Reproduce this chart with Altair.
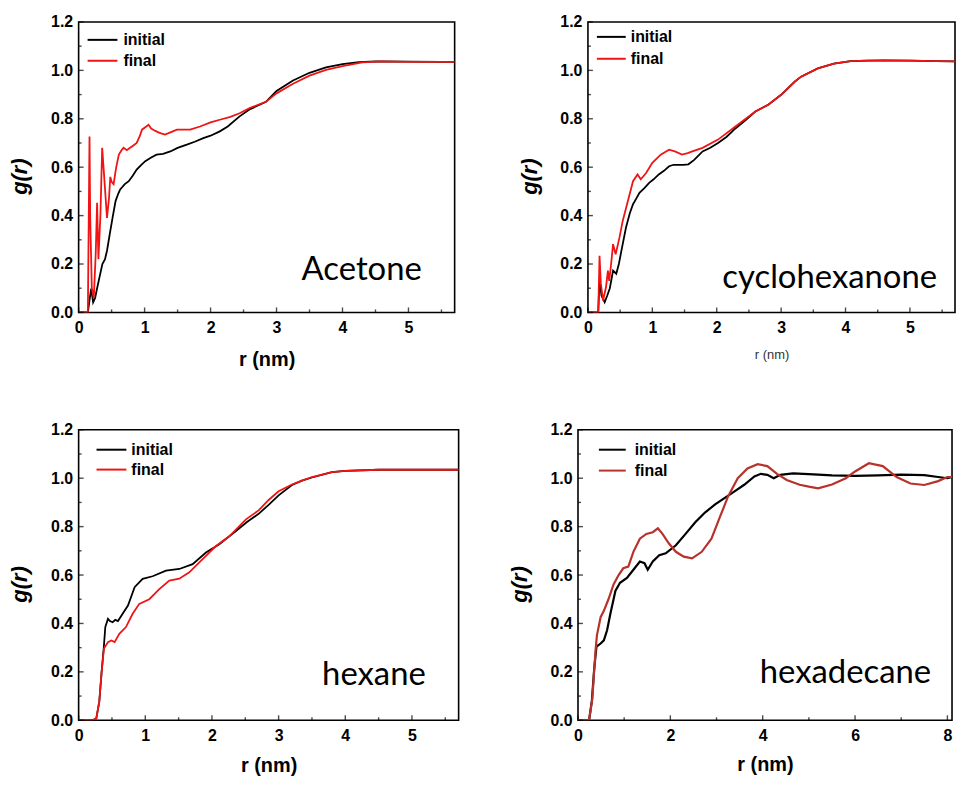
import altair as alt
import pandas as pd

# ---------------- data ----------------
# Acetone
ace_init_r = [0, 0.14, 0.17, 0.19, 0.22, 0.25, 0.28, 0.32, 0.36, 0.40, 0.43, 0.48, 0.52, 0.56, 0.60, 0.63, 0.70, 0.76, 0.82, 0.88, 0.95, 1.01, 1.10, 1.18, 1.28, 1.39, 1.50, 1.64, 1.76, 1.89, 2.00, 2.14, 2.26, 2.44, 2.60, 2.84, 3.00, 3.25, 3.50, 3.75, 4.00, 4.25, 4.50, 5.00, 5.50, 5.70]
ace_init_g = [0, 0, 0.06, 0.098, 0.042, 0.06, 0.10, 0.15, 0.20, 0.22, 0.255, 0.337, 0.40, 0.46, 0.49, 0.508, 0.53, 0.542, 0.565, 0.59, 0.61, 0.625, 0.64, 0.652, 0.655, 0.665, 0.68, 0.693, 0.705, 0.72, 0.73, 0.748, 0.768, 0.81, 0.84, 0.87, 0.915, 0.958, 0.99, 1.012, 1.026, 1.034, 1.037, 1.036, 1.035, 1.035]
ace_fin_r = [0, 0.14, 0.165, 0.175, 0.20, 0.23, 0.26, 0.28, 0.30, 0.33, 0.357, 0.39, 0.43, 0.46, 0.48, 0.50, 0.53, 0.57, 0.61, 0.65, 0.68, 0.73, 0.78, 0.83, 0.88, 0.93, 0.96, 1.01, 1.06, 1.10, 1.13, 1.20, 1.25, 1.31, 1.40, 1.49, 1.60, 1.69, 1.84, 2.00, 2.14, 2.30, 2.44, 2.60, 2.84, 3.00, 3.25, 3.50, 3.75, 4.00, 4.30, 4.60, 5.00, 5.50, 5.70]
ace_fin_g = [0, 0, 0.727, 0.40, 0.10, 0.06, 0.25, 0.453, 0.22, 0.40, 0.68, 0.55, 0.39, 0.47, 0.56, 0.54, 0.53, 0.60, 0.652, 0.67, 0.68, 0.67, 0.68, 0.69, 0.70, 0.73, 0.755, 0.765, 0.775, 0.76, 0.755, 0.745, 0.74, 0.735, 0.745, 0.755, 0.755, 0.755, 0.768, 0.785, 0.796, 0.808, 0.823, 0.845, 0.87, 0.905, 0.945, 0.978, 1.002, 1.018, 1.033, 1.037, 1.035, 1.035, 1.035]

# cyclohexanone
cyc_init_r = [0, 0.16, 0.18, 0.21, 0.26, 0.30, 0.34, 0.39, 0.44, 0.48, 0.52, 0.59, 0.65, 0.70, 0.75, 0.80, 0.88, 0.95, 1.02, 1.10, 1.18, 1.26, 1.33, 1.41, 1.48, 1.56, 1.65, 1.78, 1.90, 2.02, 2.15, 2.29, 2.45, 2.60, 2.80, 3.00, 3.21, 3.31, 3.57, 3.82, 4.08, 4.34, 4.60, 5.00, 5.40, 5.70]
cyc_init_g = [0, 0, 0.14, 0.07, 0.042, 0.07, 0.10, 0.173, 0.16, 0.20, 0.255, 0.35, 0.41, 0.447, 0.47, 0.494, 0.515, 0.535, 0.55, 0.57, 0.585, 0.604, 0.61, 0.61, 0.61, 0.612, 0.63, 0.665, 0.68, 0.70, 0.725, 0.76, 0.795, 0.83, 0.858, 0.899, 0.953, 0.974, 1.008, 1.028, 1.038, 1.04, 1.04, 1.04, 1.038, 1.037]
cyc_fin_r = [0, 0.16, 0.18, 0.20, 0.235, 0.28, 0.31, 0.33, 0.36, 0.39, 0.43, 0.49, 0.54, 0.62, 0.70, 0.77, 0.82, 0.90, 1.00, 1.13, 1.26, 1.35, 1.46, 1.55, 1.62, 1.78, 2.02, 2.29, 2.45, 2.60, 2.80, 3.00, 3.21, 3.31, 3.57, 3.82, 4.08, 4.34, 4.60, 5.00, 5.40, 5.70]
cyc_fin_g = [0, 0, 0.234, 0.12, 0.049, 0.104, 0.173, 0.13, 0.20, 0.282, 0.24, 0.31, 0.378, 0.46, 0.542, 0.57, 0.55, 0.575, 0.618, 0.652, 0.672, 0.665, 0.652, 0.658, 0.665, 0.68, 0.714, 0.768, 0.80, 0.83, 0.858, 0.899, 0.953, 0.974, 1.008, 1.028, 1.038, 1.04, 1.042, 1.04, 1.038, 1.037]

# hexane
hex_init_r = [0, 0.21, 0.265, 0.31, 0.345, 0.38, 0.40, 0.44, 0.47, 0.51, 0.55, 0.59, 0.66, 0.74, 0.84, 0.96, 1.11, 1.31, 1.51, 1.71, 1.91, 2.11, 2.36, 2.53, 2.70, 2.85, 3.00, 3.20, 3.35, 3.50, 3.80, 4.00, 4.50, 5.00, 5.70]
hex_init_g = [0, 0, 0.008, 0.077, 0.20, 0.31, 0.385, 0.419, 0.41, 0.405, 0.415, 0.41, 0.44, 0.474, 0.55, 0.584, 0.595, 0.618, 0.625, 0.645, 0.693, 0.727, 0.782, 0.82, 0.853, 0.89, 0.929, 0.972, 0.99, 1.003, 1.025, 1.03, 1.035, 1.035, 1.035]
hex_fin_r = [0, 0.21, 0.265, 0.31, 0.345, 0.38, 0.44, 0.49, 0.54, 0.61, 0.71, 0.81, 0.91, 1.06, 1.21, 1.36, 1.51, 1.66, 1.86, 2.06, 2.26, 2.51, 2.70, 2.85, 3.00, 3.20, 3.35, 3.50, 3.80, 4.00, 4.50, 5.00, 5.70]
hex_fin_g = [0, 0, 0.008, 0.077, 0.20, 0.296, 0.323, 0.33, 0.323, 0.357, 0.385, 0.44, 0.481, 0.50, 0.542, 0.577, 0.585, 0.611, 0.666, 0.72, 0.76, 0.83, 0.867, 0.91, 0.946, 0.974, 0.99, 1.005, 1.025, 1.03, 1.035, 1.035, 1.035]

# hexadecane
hxd_init_r = [0, 0.24, 0.30, 0.35, 0.40, 0.49, 0.56, 0.63, 0.70, 0.81, 0.91, 1.06, 1.20, 1.34, 1.44, 1.51, 1.62, 1.76, 1.90, 2.12, 2.33, 2.54, 2.75, 2.97, 3.18, 3.39, 3.60, 3.82, 3.96, 4.10, 4.24, 4.38, 4.66, 5.10, 5.50, 6.00, 6.50, 7.00, 7.50, 7.80, 8.00, 8.10]
hxd_init_g = [0, 0, 0.08, 0.21, 0.304, 0.317, 0.33, 0.372, 0.439, 0.534, 0.568, 0.588, 0.622, 0.656, 0.649, 0.622, 0.656, 0.682, 0.69, 0.723, 0.77, 0.818, 0.858, 0.892, 0.919, 0.946, 0.973, 1.007, 1.018, 1.014, 1.00, 1.014, 1.02, 1.016, 1.012, 1.01, 1.012, 1.015, 1.013, 1.005, 1.00, 1.005]
hxd_fin_r = [0, 0.24, 0.31, 0.38, 0.41, 0.49, 0.56, 0.66, 0.77, 0.88, 0.98, 1.09, 1.20, 1.34, 1.48, 1.62, 1.73, 1.83, 1.97, 2.12, 2.29, 2.47, 2.68, 2.89, 3.07, 3.25, 3.46, 3.67, 3.89, 4.10, 4.31, 4.52, 4.80, 5.00, 5.20, 5.50, 5.80, 6.00, 6.30, 6.60, 6.90, 7.20, 7.50, 7.80, 8.00, 8.10]
hxd_fin_g = [0, 0, 0.088, 0.29, 0.351, 0.426, 0.452, 0.50, 0.561, 0.60, 0.628, 0.635, 0.696, 0.75, 0.77, 0.777, 0.793, 0.77, 0.73, 0.696, 0.676, 0.669, 0.696, 0.75, 0.838, 0.925, 1.00, 1.04, 1.058, 1.05, 1.018, 0.993, 0.973, 0.965, 0.958, 0.974, 1.00, 1.028, 1.062, 1.05, 1.005, 0.978, 0.972, 0.988, 1.005, 1.005]

series_names = ["initial", "final"]
y_major = [0.0, 0.2, 0.4, 0.6, 0.8, 1.0, 1.2]
y_minor = [0.1, 0.3, 0.5, 0.7, 0.9, 1.1]
x_major_a = [0, 1, 2, 3, 4, 5]
x_minor_a = [0.5, 1.5, 2.5, 3.5, 4.5, 5.5]
x_major_b = [0, 2, 4, 6, 8]
x_minor_b = [1, 3, 5, 7]

FONT = "Liberation Sans, Arial, sans-serif"
LFONT = "Lato, Open Sans, sans-serif"


def panel(label, ri, gi, rf, gf, xmax, xmaj, xmin, w, h, red, lab_right, lab_bottom, leg,
          xtitle_y=46, xtitle_size=20, xtitle_weight="bold", xtitle_color="black", line_w=1.8):
    df = pd.concat([
        pd.DataFrame({"r": ri, "g": gi, "series": series_names[0]}),
        pd.DataFrame({"r": rf, "g": gf, "series": series_names[1]}),
    ], ignore_index=True)
    colors = ["black", red]
    xs = alt.Scale(domain=[0, xmax], nice=False, zero=False)
    ys = alt.Scale(domain=[0, 1.2], nice=False)
    xaxis = alt.Axis(values=xmaj, format="d", labelFont=FONT, labelFontSize=16,
                     labelFontWeight="bold", labelColor="black", ticks=False, tickSize=0,
                     domain=False, grid=False, labelPadding=7, labelFlush=False,
                     title="r (nm)", titleFont=FONT, titleFontSize=xtitle_size,
                     titleFontWeight=xtitle_weight, titleColor=xtitle_color,
                     titleX=w / 2, titleY=xtitle_y, titleBaseline="middle", titleAlign="center")
    yaxis = alt.Axis(values=y_major, format=".1f", labelFont=FONT, labelFontSize=16,
                     labelFontWeight="bold", labelColor="black", ticks=False, tickSize=0,
                     domain=False, grid=False, labelPadding=6, labelFlush=False,
                     title="g(r)", titleFont=FONT, titleFontSize=22, titleFontWeight="bold",
                     titleFontStyle="italic", titleColor="black",
                     titleX=-59, titleY=h / 2 + 9, titleBaseline="middle", titleAlign="center",
                     titleAngle=270)
    color = alt.Color("series:N", scale=alt.Scale(domain=series_names, range=colors), legend=None)
    base = alt.Chart(df)
    layers = []
    for s in series_names:
        layers.append(base.transform_filter(alt.datum.series == s).mark_line(
            strokeWidth=line_w, clip=True).encode(
            x=alt.X("r:Q", scale=xs, axis=xaxis), y=alt.Y("g:Q", scale=ys, axis=yaxis), color=color))

    def xticks(vals, size):
        return alt.Chart(pd.DataFrame({"v": vals})).mark_tick(
            color="black", thickness=1.4, size=size, orient="vertical").encode(
            x=alt.X("v:Q", scale=xs, axis=xaxis), y=alt.value(h - size / 2))

    def yticks(vals, size):
        return alt.Chart(pd.DataFrame({"v": vals})).mark_tick(
            color="black", thickness=1.4, size=size, orient="horizontal").encode(
            y=alt.Y("v:Q", scale=ys, axis=yaxis), x=alt.value(size / 2))

    layers += [xticks(xmaj, 5), xticks(xmin, 3), yticks(y_major, 5), yticks(y_minor, 3)]

    # in-plot legend: short line + bold label per series
    lx0, lx1, tx, ly0, ldy = leg
    leg_df = pd.DataFrame({"series": series_names})
    for i, s in enumerate(series_names):
        sub = alt.Chart(leg_df).transform_filter(alt.datum.series == s)
        layers.append(sub.mark_rule(strokeWidth=2, color=colors[i]).encode(
            x=alt.value(lx0), x2=alt.value(lx1), y=alt.value(ly0 + i * ldy)))
        layers.append(sub.mark_text(align="left", baseline="middle", font=FONT, fontSize=16,
                                    fontWeight="bold", color="black").encode(
            text="series:N", x=alt.value(tx), y=alt.value(ly0 + i * ldy)))

    txt = alt.Chart(pd.DataFrame({"label": [label]})).mark_text(
        font=LFONT, fontSize=33, align="right", baseline="alphabetic", color="black").encode(
        text="label:N", x=alt.value(w - lab_right), y=alt.value(h - lab_bottom))
    layers.append(txt)

    return alt.layer(*layers).properties(width=w, height=h)


p1 = panel("Acetone", ace_init_r, ace_init_g, ace_fin_r, ace_fin_g, 5.7, x_major_a, x_minor_a,
           378, 292, "#f01414", 33, 33, (9, 39, 45, 18, 21), xtitle_y=47)
p2 = panel("cyclohexanone", cyc_init_r, cyc_init_g, cyc_fin_r, cyc_fin_g, 5.7, x_major_a, x_minor_a,
           369, 292, "#f01414", 18, 25, (9, 38, 43, 15, 22), xtitle_y=42,
           xtitle_size=13, xtitle_weight="normal", xtitle_color="#333333")
p3 = panel("hexane", hex_init_r, hex_init_g, hex_fin_r, hex_fin_g, 5.7, x_major_a, x_minor_a,
           382, 292, "#f01414", 33, 35, (18, 48, 53, 20, 20), xtitle_y=45)
p4 = panel("hexadecane", hxd_init_r, hxd_init_g, hxd_fin_r, hxd_fin_g, 8.1, x_major_b, x_minor_b,
           376, 292, "#b8322c", 21, 37, (21, 48, 57, 20, 21), xtitle_y=44, line_w=2.2)

row1 = alt.hconcat(p1, p2, spacing=62).resolve_scale(color="independent", x="independent", y="independent")
row2 = alt.hconcat(p3, p4, spacing=48).resolve_scale(color="independent", x="independent", y="independent")

chart = alt.vconcat(row1, row2, spacing=51).resolve_scale(
    color="independent", x="independent", y="independent").configure(
    padding={"left": 0, "top": 3, "right": 0, "bottom": 0}, background="white",
    view=alt.ViewConfig(stroke="black", strokeWidth=1.6))

chart.save("out.html", embed_options={"renderer": "svg", "actions": False})
